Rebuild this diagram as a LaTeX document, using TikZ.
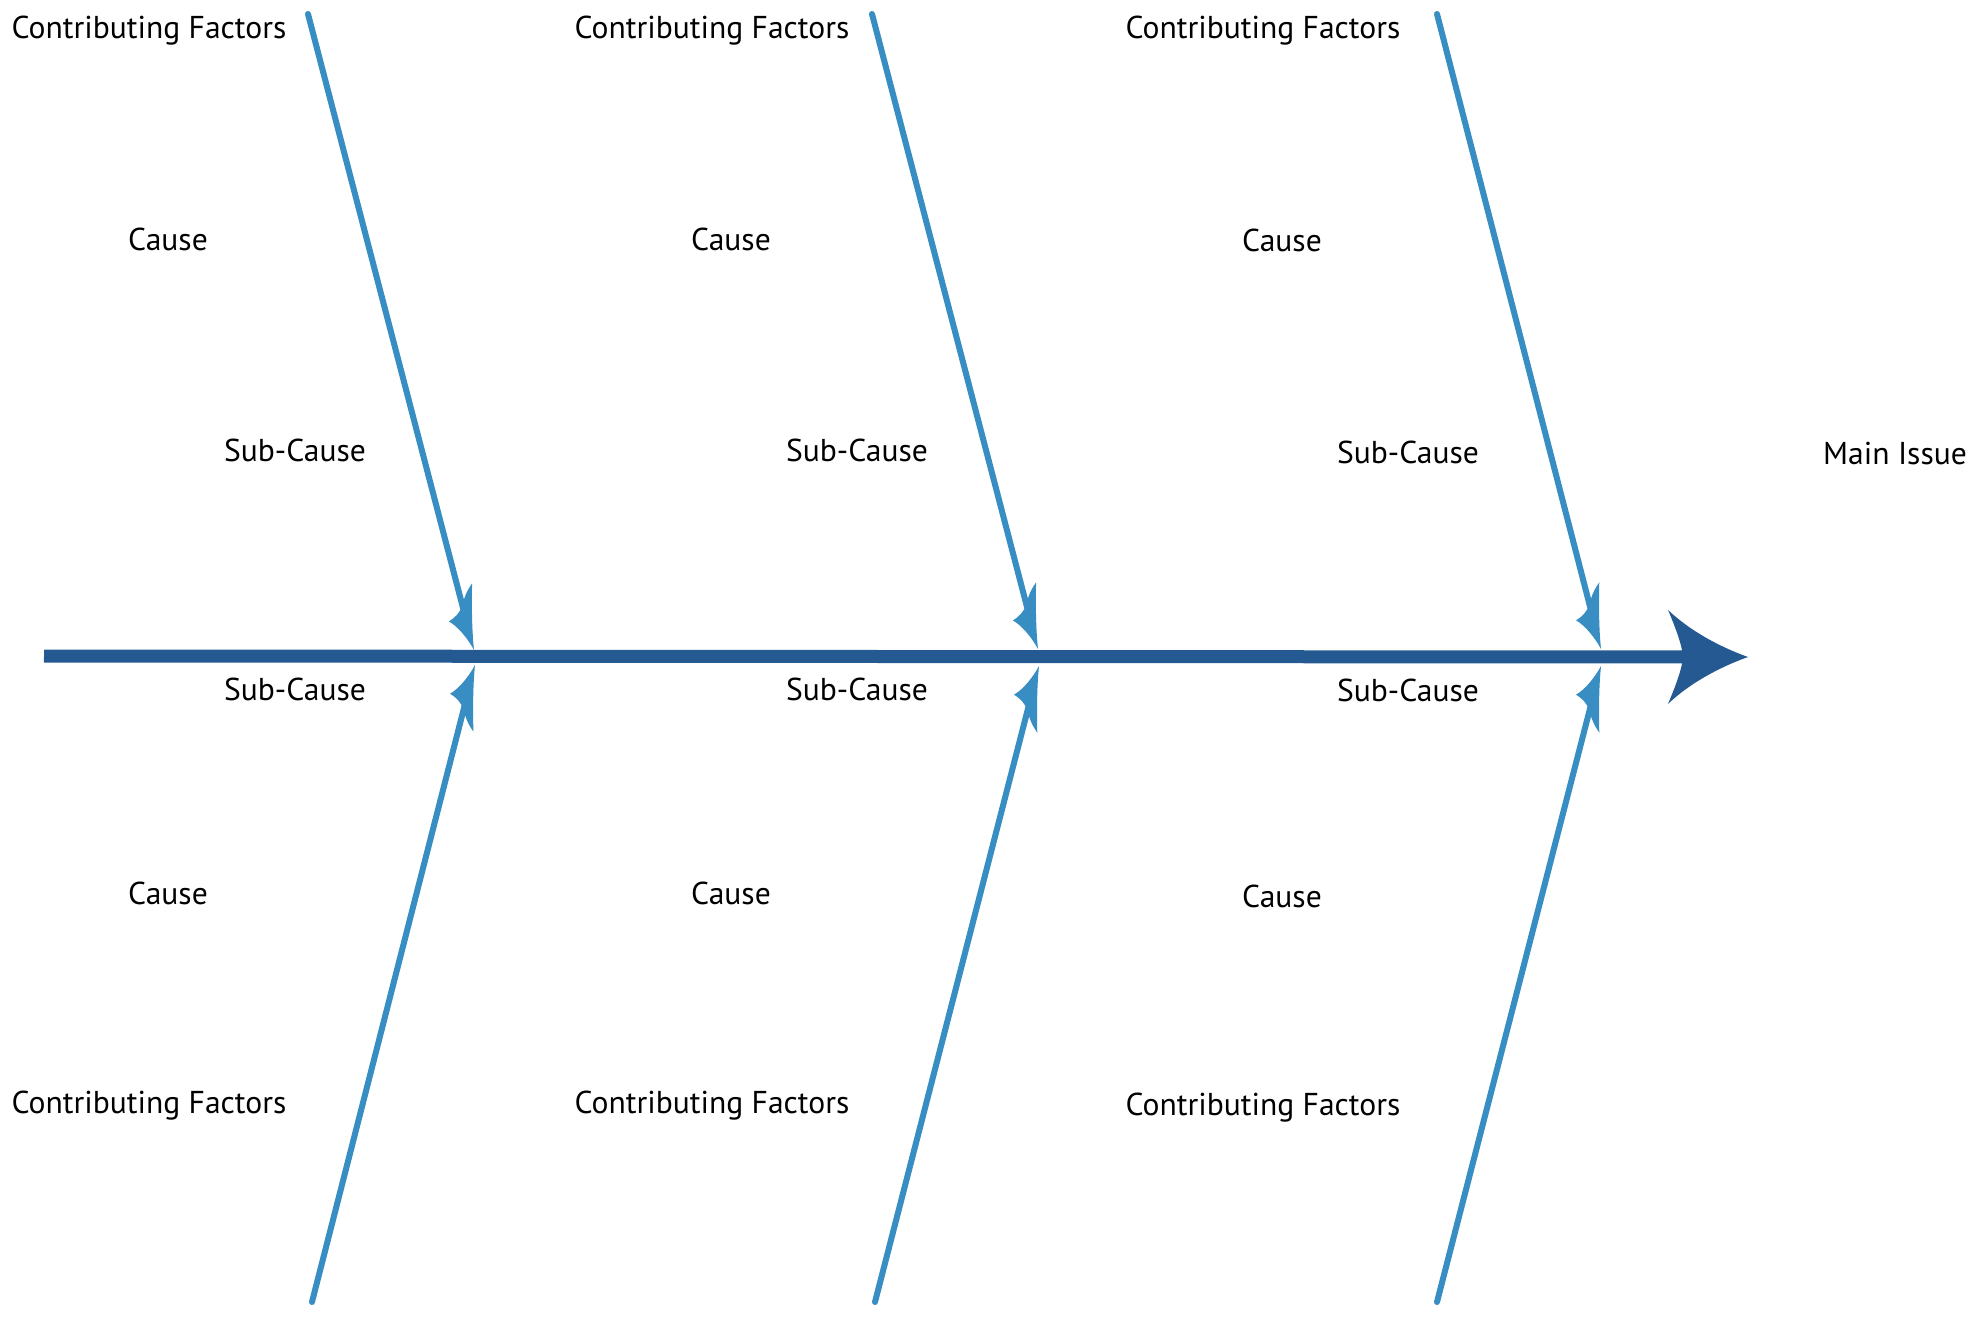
\documentclass[tikz,border=0pt]{standalone}
\usepackage{fontspec}
\setmainfont{PT Sans}
\usetikzlibrary{arrows.meta}

\definecolor{spinecol}{RGB}{36,90,145}
\definecolor{bonecol}{RGB}{56,142,194}

% Fin-shaped tip for the bones; short barb on the right-hand side
\pgfdeclarearrow{
  name = FinA,
  setup code = {
    \pgfarrowssettipend{0pt}
    \pgfarrowssetlineend{-18pt}
    \pgfarrowssetbackend{-32.5pt}
    \pgfarrowssetvisualbackend{-20pt}
    \pgfarrowshullpoint{0pt}{0pt}
    \pgfarrowshullpoint{-17pt}{-8.5pt}
    \pgfarrowshullpoint{-32.5pt}{7.5pt}
  },
  drawing code = {
    \pgfpathmoveto{\pgfpointorigin}
    \pgfpathcurveto{\pgfpoint{-6pt}{-1.5pt}}{\pgfpoint{-13pt}{-4.5pt}}{\pgfpoint{-17pt}{-8.5pt}}
    \pgfpathcurveto{\pgfpoint{-18pt}{-5pt}}{\pgfpoint{-20pt}{-2pt}}{\pgfpoint{-23pt}{0pt}}
    \pgfpathcurveto{\pgfpoint{-27pt}{2pt}}{\pgfpoint{-30pt}{4.5pt}}{\pgfpoint{-32.5pt}{7.5pt}}
    \pgfpathcurveto{\pgfpoint{-22pt}{4.5pt}}{\pgfpoint{-10pt}{1.5pt}}{\pgfpointorigin}
    \pgfpathclose
    \pgfusepathqfill
  }
}
% Mirror image of FinA
\pgfdeclarearrow{
  name = FinB,
  setup code = {
    \pgfarrowssettipend{0pt}
    \pgfarrowssetlineend{-18pt}
    \pgfarrowssetbackend{-32.5pt}
    \pgfarrowssetvisualbackend{-20pt}
    \pgfarrowshullpoint{0pt}{0pt}
    \pgfarrowshullpoint{-17pt}{8.5pt}
    \pgfarrowshullpoint{-32.5pt}{-7.5pt}
  },
  drawing code = {
    \pgfpathmoveto{\pgfpointorigin}
    \pgfpathcurveto{\pgfpoint{-6pt}{1.5pt}}{\pgfpoint{-13pt}{4.5pt}}{\pgfpoint{-17pt}{8.5pt}}
    \pgfpathcurveto{\pgfpoint{-18pt}{5pt}}{\pgfpoint{-20pt}{2pt}}{\pgfpoint{-23pt}{0pt}}
    \pgfpathcurveto{\pgfpoint{-27pt}{-2pt}}{\pgfpoint{-30pt}{-4.5pt}}{\pgfpoint{-32.5pt}{-7.5pt}}
    \pgfpathcurveto{\pgfpoint{-22pt}{-4.5pt}}{\pgfpoint{-10pt}{-1.5pt}}{\pgfpointorigin}
    \pgfpathclose
    \pgfusepathqfill
  }
}
% Large head of the spine with slightly concave flanks and a curved notch
\pgfdeclarearrow{
  name = SpineHead,
  setup code = {
    \pgfarrowssettipend{0pt}
    \pgfarrowssetlineend{-30pt}
    \pgfarrowssetbackend{-40pt}
    \pgfarrowssetvisualbackend{-32.5pt}
    \pgfarrowshullpoint{0pt}{0pt}
    \pgfarrowsupperhullpoint{-40pt}{23.5pt}
  },
  drawing code = {
    \pgfpathmoveto{\pgfpointorigin}
    \pgfpathcurveto{\pgfpoint{-14pt}{5pt}}{\pgfpoint{-29pt}{13pt}}{\pgfpoint{-40pt}{23.5pt}}
    \pgfpathcurveto{\pgfpoint{-36pt}{14pt}}{\pgfpoint{-33pt}{6pt}}{\pgfpoint{-32.5pt}{0pt}}
    \pgfpathcurveto{\pgfpoint{-33pt}{-6pt}}{\pgfpoint{-36pt}{-14pt}}{\pgfpoint{-40pt}{-23.5pt}}
    \pgfpathcurveto{\pgfpoint{-29pt}{-13pt}}{\pgfpoint{-14pt}{-5pt}}{\pgfpointorigin}
    \pgfpathclose
    \pgfusepathqfill
  }
}

\tikzset{
  spine/.style={draw=spinecol, fill=spinecol, line width=6.5pt, -{SpineHead}},
  boneup/.style={draw=bonecol, fill=bonecol, line width=3pt, line cap=round, -{FinA}},
  bonedown/.style={draw=bonecol, fill=bonecol, line width=3pt, line cap=round, -{FinB}},
  lbl/.style={anchor=base, inner sep=0pt, font=\fontsize{15.8}{19}\selectfont, text=black},
}

\begin{document}
\begin{tikzpicture}[x=0.5pt, y=-0.5pt]
  \fill[white] (0,0) rectangle (1977,1318);
  \useasboundingbox (0,0) rectangle (1977,1318);

  % spine
  \coordinate (tail) at (44,656);
  \coordinate (head) at (1748,657);
  \draw[spine] (tail) -- (head);

  % bone end points
  \coordinate (t1) at (308,14);   \coordinate (u1) at (474,650);
  \coordinate (b1) at (312,1302); \coordinate (d1) at (475,665);
  \coordinate (t2) at (872,14);   \coordinate (u2) at (1038,649);
  \coordinate (b2) at (875,1302); \coordinate (d2) at (1039,666);
  \coordinate (t3) at (1437,14);  \coordinate (u3) at (1601,649);
  \coordinate (b3) at (1437,1302);\coordinate (d3) at (1601,666);

  \draw[boneup]   (t1) -- (u1);
  \draw[bonedown] (b1) -- (d1);
  \draw[boneup]   (t2) -- (u2);
  \draw[bonedown] (b2) -- (d2);
  \draw[boneup]   (t3) -- (u3);
  \draw[bonedown] (b3) -- (d3);

  % labels above the spine
  \node[lbl] (cf1) at (149,38) {Contributing Factors};
  \node[lbl] (cf2) at (712,38) {Contributing Factors};
  \node[lbl] (cf3) at (1263,38) {Contributing Factors};
  \node[lbl] (c1) at (168,250) {Cause};
  \node[lbl] (c2) at (731,250) {Cause};
  \node[lbl] (c3) at (1282,251) {Cause};
  \node[lbl] (s1) at (295,461) {Sub-Cause};
  \node[lbl] (s2) at (857,461) {Sub-Cause};
  \node[lbl] (s3) at (1408,463) {Sub-Cause};
  \node[lbl] (main) at (1895,464) {Main Issue};

  % labels below the spine
  \node[lbl] (s4) at (295,700) {Sub-Cause};
  \node[lbl] (s5) at (857,700) {Sub-Cause};
  \node[lbl] (s6) at (1408,701) {Sub-Cause};
  \node[lbl] (c4) at (168,904) {Cause};
  \node[lbl] (c5) at (731,904) {Cause};
  \node[lbl] (c6) at (1282,907) {Cause};
  \node[lbl] (cf4) at (149,1113) {Contributing Factors};
  \node[lbl] (cf5) at (712,1113) {Contributing Factors};
  \node[lbl] (cf6) at (1263,1115) {Contributing Factors};
\end{tikzpicture}
\end{document}
